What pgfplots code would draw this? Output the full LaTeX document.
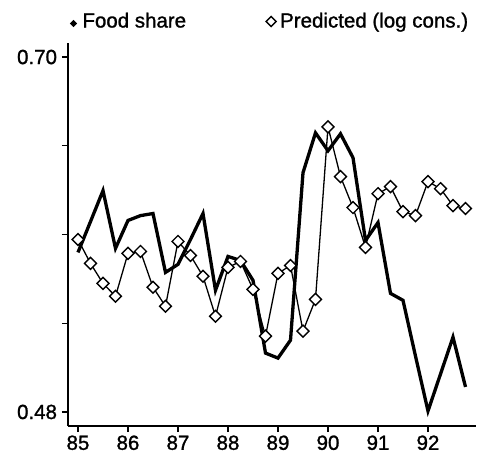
\documentclass[border=0pt]{standalone}
\usepackage{fontspec}
\setmainfont{Liberation Sans}[FakeBold=1.2]
\usepackage{pgfplots}
\pgfplotsset{compat=1.18}
\begin{document}
\begin{tikzpicture}
\path[use as bounding box] (-68bp,-38bp) rectangle (415bp,426bp);
\begin{axis}[
  scale only axis, width=408bp, height=383bp,
  xmin=84.8, xmax=92.96, ymin=0.4713, ymax=0.7087,
  axis x line*=bottom, axis y line*=left,
  axis line style={line width=1.5bp, -},
  xtick={85,86,87,88,89,90,91,92},
  xticklabels={85,86,87,88,89,90,91,92},
  ytick={0.48,0.535,0.59,0.645,0.70},
  yticklabels={0.48,,,,0.70},
  tick style={line width=1.3bp, black},
  tick align=outside, major tick length=6bp,
  ticklabel style={font=\fontsize{20.5bp}{24bp}\selectfont},
  yticklabel style={xshift=-1.5bp},
  /pgf/number format/assume math mode=true,
  clip=false,
  legend columns=2,
  legend cell align=left,
  legend style={draw=none, fill=none, at={(0,1)}, anchor=south west,
    xshift=2.5bp, yshift=14bp, inner sep=0pt, outer sep=0pt,
    font=\fontsize{20.5bp}{24bp}\selectfont,
    nodes={inner sep=0pt, outer sep=0pt},
    /tikz/every even column/.append style={column sep=79bp},
    cells={anchor=base west}},
]
\addplot[black, line width=3.3bp, line join=miter, mark=none,
  legend image code/.code={\fill[black] (0bp,4bp) circle (1.3bp); \path[draw=none,fill=none] (-1.6bp,0bp) rectangle (9bp,1bp);}]
  coordinates {
  (85.00,0.5789) (85.25,0.5980) (85.50,0.6172) (85.75,0.5814)
  (86.00,0.5987) (86.25,0.6017) (86.50,0.6030) (86.75,0.5665)
  (87.00,0.5715) (87.25,0.5869) (87.50,0.6030) (87.75,0.5554)
  (88.00,0.5764) (88.25,0.5739) (88.50,0.5616) (88.75,0.5165)
  (89.00,0.5134) (89.25,0.5245) (89.50,0.6283) (89.75,0.6530)
  (90.00,0.6419) (90.25,0.6524) (90.50,0.6376) (90.75,0.5863)
  (91.00,0.5974) (91.25,0.5535) (91.50,0.5492) (91.75,0.5146)
  (92.00,0.4806) (92.25,0.5035) (92.50,0.5264) (92.75,0.4955)
  };
\addlegendentry{Food share}
\addplot[black, line width=1.3bp, mark=square*, mark size=4.2bp,
  mark options={rotate=45, fill=white, line width=1.4bp, solid},
  legend image code/.code={\draw[black, line width=1.5bp, fill=white] (-5bp,6bp) -- (0bp,11bp) -- (5bp,6bp) -- (0bp,1bp) -- cycle; \path[draw=none,fill=none] (-6bp,0bp) rectangle (9bp,1bp);}]
  coordinates {
  (85.00,0.5869) (85.25,0.5721) (85.50,0.5597) (85.75,0.5517)
  (86.00,0.5783) (86.25,0.5795) (86.50,0.5573) (86.75,0.5455)
  (87.00,0.5857) (87.25,0.5770) (87.50,0.5641) (87.75,0.5393)
  (88.00,0.5696) (88.25,0.5733) (88.50,0.5560) (88.75,0.5270)
  (89.00,0.5659) (89.25,0.5708) (89.50,0.5301) (89.75,0.5498)
  (90.00,0.6567) (90.25,0.6259) (90.50,0.6067) (90.75,0.5820)
  (91.00,0.6153) (91.25,0.6197) (91.50,0.6042) (91.75,0.6017)
  (92.00,0.6228) (92.25,0.6184) (92.50,0.6079) (92.75,0.6061)
  };
\addlegendentry{Predicted (log cons.)}
\end{axis}
\end{tikzpicture}
\end{document}
